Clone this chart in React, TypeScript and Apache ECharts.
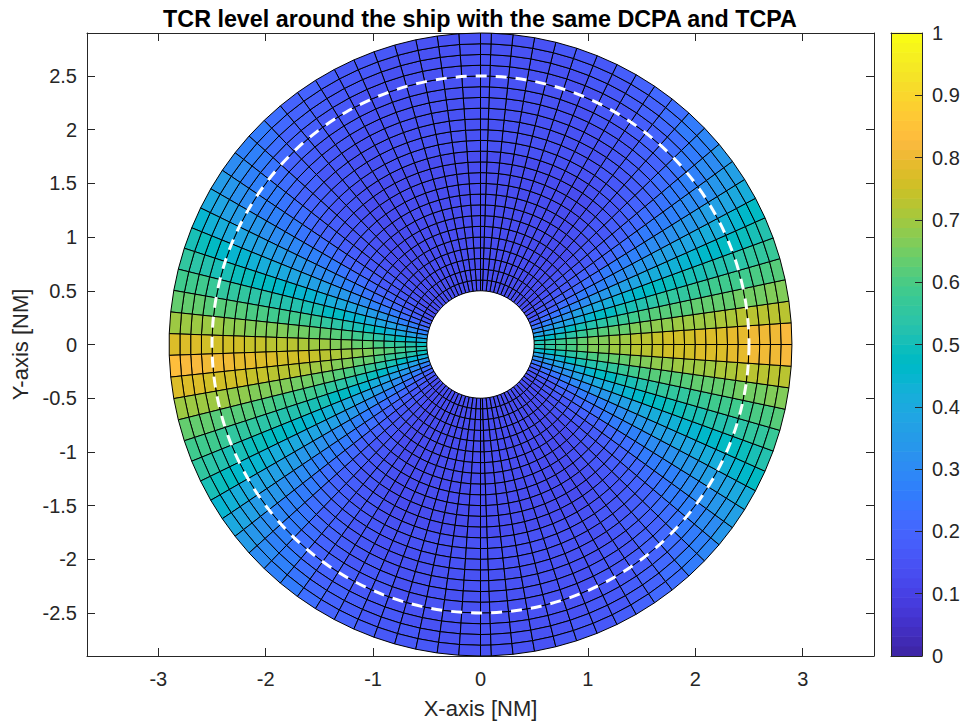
import { useEffect, useRef } from "react";
import * as echarts from "echarts";

const TITLE = "TCR level around the ship with the same DCPA and TCPA";
const X_LABEL = "X-axis [NM]";
const Y_LABEL = "Y-axis [NM]";
const X_TICKS = [-3, -2, -1, 0, 1, 2, 3];
const Y_TICKS = [-2.5, -2, -1.5, -1, -0.5, 0, 0.5, 1, 1.5, 2, 2.5];
const X_MIN = -3.664;
const X_MAX = 3.664;
const Y_MIN = -2.9;
const Y_MAX = 2.9;
const CB_MIN = 0;
const CB_MAX = 1;
const DASHED_RADIUS = 2.5;

// ring edges [NM]
const RING_EDGES = [0.5, 0.6, 0.7, 0.8, 0.9, 1.0, 1.1, 1.2, 1.3, 1.4, 1.5, 1.6, 1.7, 1.8, 1.9, 2.0, 2.1, 2.2, 2.3, 2.4, 2.5, 2.6, 2.7, 2.8, 2.9];

// sector edges in degrees (counter-clockwise from +x)
const RIGHT_SECTOR_EDGES = [-90, ...Array.from({ length: 45 }, (_, i) => -88 + 4 * i), 90];
const LEFT_SECTOR_EDGES = Array.from({ length: 46 }, (_, j) => 90 + 4 * j);

// TCR (x100) for the right half, per ring, by angular distance from 0 deg
// (sector centres 2, 6, 10, ..., 86, 89 deg)
const RIGHT_LOBE = [
  [52, 45, 37, 30, 24, 20, 17, 15, 14, 14, 14, 14, 14, 14, 14, 14, 14, 14, 14, 14, 14, 14, 14],
  [55, 48, 40, 33, 27, 22, 19, 16, 15, 14, 14, 14, 14, 14, 14, 14, 14, 14, 14, 14, 14, 14, 14],
  [58, 51, 43, 36, 30, 24, 20, 17, 16, 15, 14, 14, 14, 14, 14, 14, 14, 14, 14, 14, 14, 14, 14],
  [60, 54, 47, 39, 32, 27, 22, 19, 16, 15, 15, 14, 14, 14, 14, 14, 14, 14, 14, 14, 14, 14, 14],
  [63, 57, 50, 42, 36, 29, 23, 20, 17, 16, 15, 14, 14, 14, 14, 14, 14, 14, 14, 14, 14, 14, 14],
  [66, 60, 53, 45, 38, 31, 25, 21, 18, 16, 15, 14, 14, 14, 14, 14, 14, 14, 14, 14, 14, 14, 14],
  [67, 61, 54, 47, 40, 33, 26, 22, 19, 17, 15, 14, 14, 14, 14, 14, 14, 14, 14, 14, 14, 14, 14],
  [69, 63, 56, 48, 41, 34, 28, 23, 20, 17, 16, 15, 14, 14, 14, 14, 14, 14, 14, 14, 14, 14, 14],
  [70, 64, 57, 50, 43, 36, 29, 25, 20, 18, 16, 15, 15, 14, 14, 14, 14, 14, 14, 14, 14, 14, 14],
  [72, 66, 59, 51, 44, 37, 31, 26, 21, 18, 17, 16, 15, 14, 14, 14, 14, 14, 14, 14, 14, 14, 14],
  [73, 67, 60, 53, 46, 39, 32, 27, 22, 19, 17, 16, 15, 14, 14, 14, 14, 14, 14, 14, 14, 14, 14],
  [74, 68, 61, 54, 47, 40, 33, 28, 23, 20, 18, 16, 15, 14, 14, 14, 14, 14, 14, 14, 14, 14, 14],
  [75, 68, 61, 55, 48, 41, 34, 29, 24, 21, 18, 17, 16, 15, 14, 14, 14, 14, 14, 14, 14, 14, 14],
  [75, 69, 62, 55, 49, 42, 36, 30, 25, 21, 19, 17, 16, 15, 15, 15, 15, 15, 15, 15, 15, 15, 15],
  [76, 69, 62, 56, 49, 43, 37, 31, 26, 22, 19, 18, 17, 16, 15, 15, 15, 15, 15, 15, 15, 15, 15],
  [77, 70, 63, 57, 50, 44, 38, 32, 27, 23, 20, 18, 17, 16, 15, 15, 15, 15, 15, 15, 15, 15, 15],
  [78, 70, 63, 57, 51, 45, 39, 33, 28, 24, 21, 19, 18, 16, 15, 15, 15, 15, 15, 15, 15, 15, 15],
  [78, 71, 64, 58, 52, 46, 40, 34, 29, 25, 22, 20, 18, 17, 16, 15, 15, 15, 15, 15, 15, 15, 15],
  [79, 71, 64, 58, 52, 46, 41, 35, 30, 26, 23, 20, 19, 17, 16, 16, 15, 15, 15, 15, 15, 15, 15],
  [79, 72, 65, 59, 53, 47, 42, 36, 31, 27, 24, 21, 19, 18, 17, 16, 15, 15, 15, 15, 15, 15, 15],
  [80, 72, 65, 59, 54, 48, 43, 37, 32, 28, 25, 22, 20, 18, 17, 16, 15, 15, 15, 15, 15, 15, 15],
  [81, 72, 65, 60, 55, 49, 44, 39, 34, 30, 26, 23, 21, 19, 18, 17, 16, 15, 15, 15, 15, 15, 15],
  [81, 73, 66, 60, 56, 51, 46, 40, 35, 31, 28, 25, 22, 20, 18, 17, 16, 16, 15, 15, 15, 15, 15],
  [82, 73, 66, 61, 57, 52, 47, 42, 37, 33, 29, 26, 23, 21, 19, 18, 17, 16, 16, 15, 15, 15, 15],
];

// TCR (x100) for the left half, per ring, by angular distance from 184 deg
// (sector centres 0, 4, 8, ..., 92 deg away)
const LEFT_LOBE = [
  [53, 49, 41, 34, 27, 22, 19, 16, 15, 14, 14, 14, 14, 14, 14, 14, 14, 14, 14, 14, 14, 14, 14, 14],
  [56, 52, 44, 37, 30, 25, 21, 18, 16, 15, 14, 14, 14, 14, 14, 14, 14, 14, 14, 14, 14, 14, 14, 14],
  [59, 55, 47, 40, 33, 27, 22, 19, 17, 16, 15, 14, 14, 14, 14, 14, 14, 14, 14, 14, 14, 14, 14, 14],
  [61, 57, 51, 43, 36, 30, 25, 21, 18, 16, 15, 15, 14, 14, 14, 14, 14, 14, 14, 14, 14, 14, 14, 14],
  [64, 60, 54, 46, 39, 33, 26, 22, 19, 17, 16, 15, 14, 14, 14, 14, 14, 14, 14, 14, 14, 14, 14, 14],
  [67, 63, 57, 49, 42, 35, 28, 23, 20, 17, 16, 15, 14, 14, 14, 14, 14, 14, 14, 14, 14, 14, 14, 14],
  [68, 64, 58, 51, 44, 37, 30, 24, 21, 18, 16, 15, 14, 14, 14, 14, 14, 14, 14, 14, 14, 14, 14, 14],
  [70, 66, 60, 52, 45, 38, 31, 26, 22, 19, 17, 16, 15, 14, 14, 14, 14, 14, 14, 14, 14, 14, 14, 14],
  [71, 67, 61, 54, 47, 40, 33, 27, 23, 19, 17, 16, 15, 15, 14, 14, 14, 14, 14, 14, 14, 14, 14, 14],
  [73, 69, 63, 55, 48, 41, 34, 29, 24, 20, 18, 17, 16, 15, 14, 14, 14, 14, 14, 14, 14, 14, 14, 14],
  [74, 70, 64, 57, 50, 43, 36, 30, 25, 21, 18, 17, 16, 15, 14, 14, 14, 14, 14, 14, 14, 14, 14, 14],
  [75, 71, 65, 58, 51, 44, 37, 31, 26, 22, 19, 17, 16, 15, 14, 14, 14, 14, 14, 14, 14, 14, 14, 14],
  [76, 72, 65, 58, 52, 45, 38, 32, 27, 23, 20, 18, 17, 16, 15, 14, 14, 14, 14, 14, 14, 14, 14, 14],
  [76, 72, 66, 59, 52, 46, 39, 33, 28, 23, 20, 18, 17, 16, 15, 15, 15, 15, 15, 15, 15, 15, 15, 15],
  [77, 73, 66, 59, 53, 46, 40, 34, 29, 24, 21, 19, 18, 17, 16, 15, 15, 15, 15, 15, 15, 15, 15, 15],
  [78, 74, 67, 60, 54, 47, 41, 35, 30, 25, 22, 19, 18, 17, 16, 15, 15, 15, 15, 15, 15, 15, 15, 15],
  [79, 74, 67, 60, 54, 48, 42, 36, 31, 26, 23, 20, 19, 17, 16, 15, 15, 15, 15, 15, 15, 15, 15, 15],
  [79, 75, 68, 61, 55, 49, 43, 37, 32, 27, 24, 21, 19, 18, 17, 16, 15, 15, 15, 15, 15, 15, 15, 15],
  [80, 75, 68, 61, 55, 49, 44, 38, 33, 28, 25, 22, 20, 18, 17, 16, 16, 15, 15, 15, 15, 15, 15, 15],
  [80, 76, 69, 62, 56, 50, 45, 39, 34, 29, 26, 23, 20, 19, 18, 17, 16, 15, 15, 15, 15, 15, 15, 15],
  [81, 76, 69, 62, 57, 51, 46, 40, 35, 30, 27, 24, 21, 19, 18, 17, 16, 15, 15, 15, 15, 15, 15, 15],
  [82, 77, 69, 63, 58, 52, 47, 42, 37, 32, 28, 25, 22, 20, 19, 18, 17, 16, 15, 15, 15, 15, 15, 15],
  [82, 77, 70, 63, 58, 54, 49, 43, 38, 33, 30, 27, 24, 21, 19, 18, 17, 16, 16, 15, 15, 15, 15, 15],
  [83, 78, 70, 64, 59, 55, 50, 45, 40, 35, 31, 28, 25, 22, 20, 19, 18, 17, 16, 16, 15, 15, 15, 15],
];

// MATLAB parula, 64 levels
const PARULA = [
  [0.2422, 0.1504, 0.6603], [0.2504, 0.165, 0.7076], [0.2578, 0.1818, 0.7511], [0.2647, 0.1978, 0.7952],
  [0.2706, 0.2147, 0.8364], [0.2751, 0.2342, 0.871], [0.2783, 0.2559, 0.8991], [0.2803, 0.2782, 0.9221],
  [0.2813, 0.3006, 0.9414], [0.281, 0.3228, 0.9579], [0.2795, 0.3447, 0.9717], [0.276, 0.3667, 0.9829],
  [0.2699, 0.3892, 0.9906], [0.2602, 0.4123, 0.9952], [0.244, 0.4358, 0.9988], [0.2206, 0.4603, 0.9973],
  [0.1963, 0.4847, 0.9892], [0.1834, 0.5074, 0.9798], [0.1786, 0.5289, 0.9682], [0.1764, 0.5499, 0.952],
  [0.1687, 0.5703, 0.9359], [0.154, 0.5902, 0.9218], [0.146, 0.6091, 0.9079], [0.138, 0.6276, 0.8973],
  [0.1248, 0.6459, 0.8883], [0.1113, 0.6635, 0.8763], [0.0952, 0.6798, 0.8598], [0.0689, 0.6948, 0.8394],
  [0.0297, 0.7082, 0.8163], [0.0036, 0.7203, 0.7917], [0.0067, 0.7312, 0.766], [0.0433, 0.7411, 0.7394],
  [0.0964, 0.75, 0.712], [0.1408, 0.7584, 0.6842], [0.1717, 0.767, 0.6554], [0.1938, 0.7758, 0.6251],
  [0.2161, 0.7843, 0.5923], [0.247, 0.7918, 0.5567], [0.2906, 0.7973, 0.5188], [0.3406, 0.8008, 0.4789],
  [0.3909, 0.8029, 0.4354], [0.4456, 0.8024, 0.3909], [0.5044, 0.7993, 0.348], [0.5616, 0.7942, 0.3045],
  [0.6174, 0.7876, 0.2612], [0.672, 0.7793, 0.2227], [0.7242, 0.7698, 0.191], [0.7738, 0.7598, 0.1646],
  [0.8203, 0.7498, 0.1535], [0.8634, 0.7406, 0.1596], [0.9035, 0.733, 0.1774], [0.9393, 0.7288, 0.21],
  [0.9728, 0.7298, 0.2394], [0.9956, 0.7434, 0.2371], [0.997, 0.7659, 0.2199], [0.9952, 0.7893, 0.2028],
  [0.9892, 0.8136, 0.1885], [0.9786, 0.8386, 0.1766], [0.9676, 0.8639, 0.1643], [0.961, 0.889, 0.1537],
  [0.9597, 0.9135, 0.1423], [0.9628, 0.9373, 0.1265], [0.9691, 0.9606, 0.1064], [0.9769, 0.9839, 0.0805],
];

const FONT = "'Liberation Sans', Arial, Helvetica, sans-serif";
const AXIS_COLOR = "#262626";

function rgb(c: number[]) {
  return `rgb(${Math.round(c[0] * 255)},${Math.round(c[1] * 255)},${Math.round(c[2] * 255)})`;
}

function parulaColor(v: number) {
  const n = PARULA.length;
  const i = Math.max(0, Math.min(n - 1, Math.floor(((v - CB_MIN) / (CB_MAX - CB_MIN)) * n)));
  return rgb(PARULA[i]);
}

function buildCells() {
  const cells: number[][] = [];
  for (let i = 0; i < RING_EDGES.length - 1; i++) {
    const r0 = RING_EDGES[i];
    const r1 = RING_EDGES[i + 1];
    for (let s = 0; s < RIGHT_SECTOR_EDGES.length - 1; s++) {
      const a0 = RIGHT_SECTOR_EDGES[s];
      const a1 = RIGHT_SECTOR_EDGES[s + 1];
      const k = Math.min(RIGHT_LOBE[i].length - 1, Math.floor(Math.abs((a0 + a1) / 2) / 4));
      cells.push([a0, a1, r0, r1, RIGHT_LOBE[i][k] / 100]);
    }
    for (let j = 0; j < LEFT_SECTOR_EDGES.length - 1; j++) {
      const a0 = LEFT_SECTOR_EDGES[j];
      const a1 = LEFT_SECTOR_EDGES[j + 1];
      const m = Math.min(LEFT_LOBE[i].length - 1, Math.abs(j - 23));
      cells.push([a0, a1, r0, r1, LEFT_LOBE[i][m] / 100]);
    }
  }
  return cells;
}

export default function App() {
  const ref = useRef<HTMLDivElement>(null);

  useEffect(() => {
    if (!ref.current) return;
    const chart = echarts.init(ref.current, undefined, { renderer: "svg" });
    const cells = buildCells();
    const cbLevels = PARULA.map((_, i) => [0.5, (i + 0.5) / PARULA.length, i]);

    const cellRender = (_params: any, api: any) => {
      const a0 = (api.value(0) * Math.PI) / 180;
      const a1 = (api.value(1) * Math.PI) / 180;
      const r0 = api.value(2);
      const r1 = api.value(3);
      const v = api.value(4);
      const corners = [
        [r0, a0],
        [r1, a0],
        [r1, a1],
        [r0, a1],
      ];
      const points = corners.map(([r, a]) => api.coord([r * Math.cos(a), r * Math.sin(a)]));
      return {
        type: "polygon",
        shape: { points },
        style: { fill: parulaColor(v), stroke: "#000", lineWidth: 1 },
      };
    };

    const circleRender = (_params: any, api: any) => {
      const c = api.coord([0, 0]);
      const e = api.coord([DASHED_RADIUS, 0]);
      return {
        type: "circle",
        shape: { cx: c[0], cy: c[1], r: e[0] - c[0] },
        style: { fill: "none", stroke: "#ffffff", lineWidth: 3, lineDash: [11, 9] },
      };
    };

    const cbRender = (_params: any, api: any) => {
      const idx = api.value(2);
      const n = PARULA.length;
      const p0 = api.coord([0, (idx + 1) / n]);
      const p1 = api.coord([1, idx / n]);
      return {
        type: "rect",
        shape: { x: p0[0], y: p0[1] - 0.3, width: p1[0] - p0[0], height: p1[1] - p0[1] + 0.6 },
        style: { fill: rgb(PARULA[idx]) },
      };
    };

    const lineStyle = { color: AXIS_COLOR, width: 1 };
    const labelStyle = { fontSize: 20, fontFamily: FONT, color: AXIS_COLOR };

    const option: any = {
      animation: false,
      backgroundColor: "#ffffff",
      title: {
        text: TITLE,
        left: "center",
        top: 2,
        textStyle: { fontFamily: FONT, fontSize: 23.3, fontWeight: "bold", color: "#000000" },
      },
      grid: [
        { left: 87, top: 33, width: 787, height: 623, containLabel: false, outerBoundsMode: "none" },
        { left: 891, top: 33, width: 31, height: 623, containLabel: false, outerBoundsMode: "none" },
      ],
      xAxis: [
        {
          gridIndex: 0,
          type: "value",
          min: X_MIN,
          max: X_MAX,
          position: "bottom",
          axisLine: { show: true, onZero: false, lineStyle },
          axisTick: { show: true, inside: true, length: 8, customValues: X_TICKS, lineStyle },
          axisLabel: { show: true, customValues: X_TICKS, margin: 13, ...labelStyle },
          splitLine: { show: false },
          name: X_LABEL,
          nameLocation: "middle",
          nameGap: 41,
          nameTextStyle: { fontSize: 22, fontFamily: FONT, color: AXIS_COLOR },
        },
        {
          gridIndex: 0,
          type: "value",
          min: X_MIN,
          max: X_MAX,
          position: "top",
          axisLine: { show: true, onZero: false, lineStyle },
          axisTick: { show: true, inside: true, length: 8, customValues: X_TICKS, lineStyle },
          axisLabel: { show: false },
          splitLine: { show: false },
        },
        {
          gridIndex: 1,
          type: "value",
          min: 0,
          max: 1,
          position: "bottom",
          z: 10,
          axisLine: { show: true, onZero: false, lineStyle },
          axisTick: { show: false },
          axisLabel: { show: false },
          splitLine: { show: false },
        },
        {
          gridIndex: 1,
          type: "value",
          min: 0,
          max: 1,
          position: "top",
          z: 10,
          axisLine: { show: true, onZero: false, lineStyle },
          axisTick: { show: false },
          axisLabel: { show: false },
          splitLine: { show: false },
        },
      ],
      yAxis: [
        {
          gridIndex: 0,
          type: "value",
          min: Y_MIN,
          max: Y_MAX,
          position: "left",
          axisLine: { show: true, onZero: false, lineStyle },
          axisTick: { show: true, inside: true, length: 8, customValues: Y_TICKS, lineStyle },
          axisLabel: { show: true, customValues: Y_TICKS, margin: 10, ...labelStyle },
          splitLine: { show: false },
          name: Y_LABEL,
          nameLocation: "middle",
          nameRotate: 90,
          nameGap: 54,
          nameTextStyle: { fontSize: 22, fontFamily: FONT, color: AXIS_COLOR },
        },
        {
          gridIndex: 0,
          type: "value",
          min: Y_MIN,
          max: Y_MAX,
          position: "right",
          axisLine: { show: true, onZero: false, lineStyle },
          axisTick: { show: true, inside: true, length: 8, customValues: Y_TICKS, lineStyle },
          axisLabel: { show: false },
          splitLine: { show: false },
        },
        {
          gridIndex: 1,
          type: "value",
          min: CB_MIN,
          max: CB_MAX,
          interval: 0.1,
          position: "right",
          z: 10,
          axisLine: { show: true, onZero: false, lineStyle },
          axisTick: { show: true, inside: true, length: 7, lineStyle },
          axisLabel: { show: true, margin: 10, ...labelStyle },
          splitLine: { show: false },
        },
        {
          gridIndex: 1,
          type: "value",
          min: CB_MIN,
          max: CB_MAX,
          position: "left",
          z: 10,
          axisLine: { show: true, onZero: false, lineStyle },
          axisTick: { show: false },
          axisLabel: { show: false },
          splitLine: { show: false },
        },
      ],
      series: [
        {
          type: "custom",
          xAxisIndex: 0,
          yAxisIndex: 0,
          renderItem: cellRender,
          data: cells,
          z: 2,
          silent: true,
        },
        {
          type: "custom",
          xAxisIndex: 0,
          yAxisIndex: 0,
          renderItem: circleRender,
          data: [[0, 0]],
          z: 3,
          silent: true,
        },
        {
          type: "custom",
          xAxisIndex: 2,
          yAxisIndex: 2,
          renderItem: cbRender,
          data: cbLevels,
          z: 2,
          silent: true,
        },
      ],
    };

    chart.setOption(option);
    return () => {
      chart.dispose();
    };
  }, []);

  return <div ref={ref} style={{ position: "fixed", left: 0, top: 0, width: 960, height: 722 }} />;
}
